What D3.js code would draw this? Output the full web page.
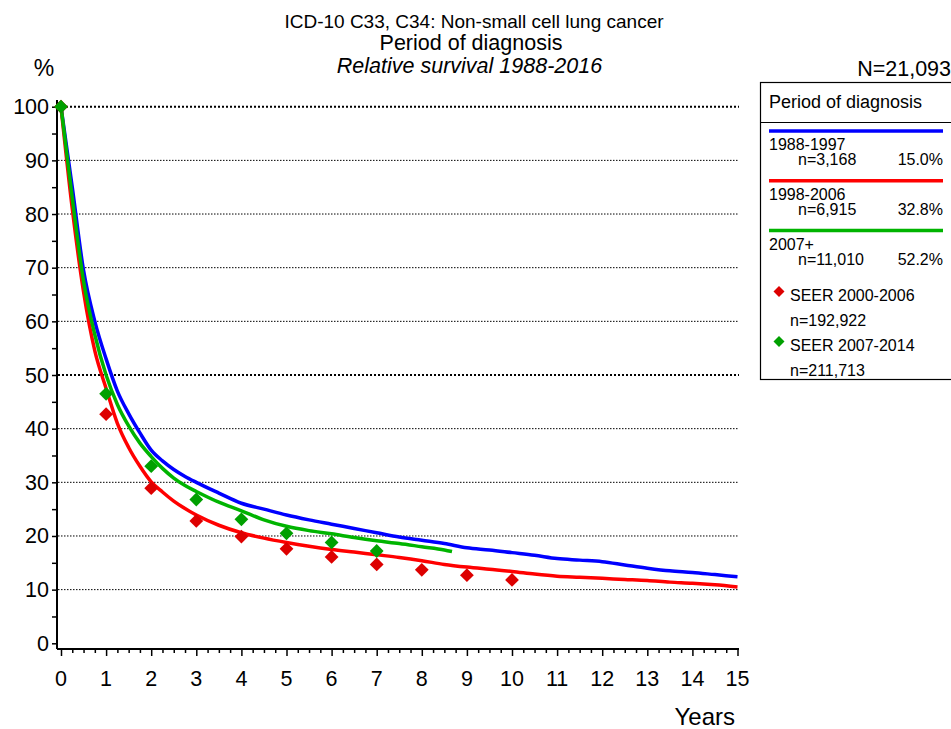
<!DOCTYPE html>
<html>
<head>
<meta charset="utf-8">
<script src="https://cdn.jsdelivr.net/npm/d3@7"></script>
<style>
  body { margin: 0; background: #fff; }
  svg { font-family: "Liberation Sans", Arial, sans-serif; }
  .narrow { font-family: "Liberation Sans Narrow", "Arial Narrow", "Liberation Sans", sans-serif; }
</style>
</head>
<body>
<svg id="chart" width="951" height="729"></svg>
<script>
// survival curves (years, relative survival %)
const years1988 = [0,0.25,0.5,0.75,1,1.25,1.5,1.75,2,2.25,2.5,2.75,3,3.5,4,4.5,5,5.5,6,6.5,7,7.5,8,8.5,9,9.5,10,10.5,11,11.5,12,12.5,13,13.5,14,14.5,15];
const surv1988 = [100,85,69.5,60,53,47,42.8,39.2,36,34,32.4,31.1,30,28,26.1,25,23.9,23,22.2,21.4,20.6,19.8,19.2,18.6,17.8,17.4,16.9,16.4,15.8,15.5,15.2,14.6,14,13.5,13.2,12.8,12.4];

const years1998 = [0,0.25,0.5,0.75,1,1.25,1.5,1.75,2,2.25,2.5,2.75,3,3.5,4,4.5,5,5.5,6,6.5,7,7.5,8,8.5,9,9.5,10,10.5,11,11.5,12,12.5,13,13.5,14,14.5,15];
const surv1998 = [100,81,65.5,54.5,47.5,41,36.5,33,30.1,28.2,26.5,25.1,23.9,22,20.6,19.6,18.8,18.1,17.5,17,16.5,16,15.4,14.7,14.2,13.8,13.4,12.9,12.5,12.3,12.1,11.9,11.7,11.4,11.2,10.9,10.5];

const years2007 = [0,0.25,0.5,0.75,1,1.25,1.5,1.75,2,2.25,2.5,2.75,3,3.5,4,4.5,5,5.5,6,6.5,7,7.5,8,8.5,8.67];
const surv2007 = [100,83,67.5,57.5,50,44.5,40.5,37.3,34.8,32.6,30.8,29.4,28.3,26.3,24.7,23,21.8,21,20.4,19.7,19.1,18.6,18,17.4,17.1];

// SEER reference points
const seerYearsA = [0,1,2,3,4,5,6,7,8,9,10];
const seerA = [100,42.7,28.9,22.8,19.9,17.6,16.1,14.7,13.7,12.7,11.8];
const seerYearsB = [0,1,2,3,4,5,6,7];
const seerB = [100,46.5,33,26.8,23.1,20.5,18.8,17.2];

const yTicks = [0,10,20,30,40,50,60,70,80,90,100];
const xTicks = d3.range(0, 16);

const legendRows = [
  {label: "1988-1997", n: "n=3,168", pct: "15.0%", color: "#0000ff"},
  {label: "1998-2006", n: "n=6,915", pct: "32.8%", color: "#ff0000"},
  {label: "2007+", n: "n=11,010", pct: "52.2%", color: "#00b400"}
];
const seerLegend = [
  {label: "SEER 2000-2006", n: "n=192,922", color: "#dd0000"},
  {label: "SEER 2007-2014", n: "n=211,713", color: "#00a000"}
];

const svg = d3.select("#chart");

const x = d3.scaleLinear().domain([0, 15]).range([61, 737.5]);
const y = d3.scaleLinear().domain([0, 100]).range([643.3, 106.7]);

// titles
svg.append("text").attr("class", "narrow").attr("x", 474).attr("y", 28)
  .attr("text-anchor", "middle").attr("font-size", 19)
  .text("ICD-10 C33, C34: Non-small cell lung cancer");
svg.append("text").attr("class", "narrow").attr("x", 471).attr("y", 50)
  .attr("text-anchor", "middle").attr("font-size", 21.5)
  .text("Period of diagnosis");
svg.append("text").attr("class", "narrow").attr("x", 469.5).attr("y", 73)
  .attr("text-anchor", "middle").attr("font-size", 21.5).attr("font-style", "italic")
  .text("Relative survival 1988-2016");
svg.append("text").attr("class", "narrow").attr("x", 44).attr("y", 76)
  .attr("text-anchor", "middle").attr("font-size", 23).text("%");
svg.append("text").attr("class", "narrow").attr("x", 951).attr("y", 76)
  .attr("text-anchor", "end").attr("font-size", 21.5).text("N=21,093");

// grid
svg.append("g").selectAll("line").data(yTicks.filter(d => d > 0)).join("line")
  .attr("x1", 58).attr("x2", 739)
  .attr("y1", d => y(d)).attr("y2", d => y(d))
  .attr("stroke", "#000")
  .attr("stroke-width", d => d % 50 === 0 ? 2 : 1)
  .attr("stroke-dasharray", d => d % 50 === 0 ? "2,2" : "1.5,1.5");

// y axis
const yAxis = d3.axisLeft(y).tickValues(d3.range(0, 101, 5)).tickSize(5).tickFormat("");
const gy = svg.append("g").attr("transform", "translate(57,0)").call(yAxis);
gy.select(".domain").attr("d", "M0,100V649").attr("stroke-width", 2);
gy.selectAll(".tick line").attr("stroke-width", 1.5);
svg.append("g").selectAll("text").data(yTicks).join("text")
  .attr("x", 49).attr("y", d => y(d) + 7.5)
  .attr("text-anchor", "end").attr("font-size", 21.5).text(d => d);

// x axis
const gx = svg.append("g").attr("transform", "translate(0,649)")
  .call(d3.axisBottom(x).tickValues(d3.range(0, 15.01, 0.25)).tickSize(4).tickFormat(""));
gx.select(".domain").attr("d", "M57,0H739").attr("stroke-width", 2);
gx.selectAll(".tick line").attr("stroke-width", 1.5)
  .attr("y2", d => Number.isInteger(d) ? 7 : 4);
svg.append("g").selectAll("text").data(xTicks).join("text")
  .attr("x", d => x(d)).attr("y", 686)
  .attr("text-anchor", "middle").attr("font-size", 21.5).text(d => d);
svg.append("text").attr("x", 735).attr("y", 725).attr("text-anchor", "end")
  .attr("font-size", 24).text("Years");

// curves
const line = d3.line().x(d => x(d[0])).y(d => y(d[1])).curve(d3.curveMonotoneX);
const curves = [
  {xs: years2007, ys: surv2007, color: "#00b400"},
  {xs: years1998, ys: surv1998, color: "#ff0000"},
  {xs: years1988, ys: surv1988, color: "#0000ff"}
];
// draw order: blue, red, green on top
[curves[2], curves[1], curves[0]].forEach(c => {
  svg.append("path").datum(d3.zip(c.xs, c.ys))
    .attr("d", line).attr("fill", "none")
    .attr("stroke", c.color).attr("stroke-width", 3.5)
    .attr("stroke-linejoin", "round");
});

// SEER diamonds
const diamond = d3.symbol().type(d3.symbolSquare).size(95);
[[seerYearsA, seerA, "#dd0000"], [seerYearsB, seerB, "#00a000"]].forEach(([xs, ys, col]) => {
  svg.append("g").selectAll("path").data(d3.zip(xs, ys)).join("path")
    .attr("d", diamond)
    .attr("transform", d => `translate(${x(d[0])},${y(d[1])}) rotate(45)`)
    .attr("fill", col);
});

// legend
const lg = svg.append("g");
lg.append("rect").attr("x", 760.5).attr("y", 82.5).attr("width", 220).attr("height", 297)
  .attr("fill", "#fff").attr("stroke", "#000").attr("stroke-width", 1.2);
lg.append("text").attr("x", 769).attr("y", 108).attr("font-size", 18).text("Period of diagnosis");
lg.append("line").attr("x1", 760).attr("x2", 951).attr("y1", 122.5).attr("y2", 122.5)
  .attr("stroke", "#000").attr("stroke-width", 1);
legendRows.forEach((r, i) => {
  const top = 131 + i * 49.8;
  lg.append("line").attr("x1", 769).attr("x2", 943).attr("y1", top).attr("y2", top)
    .attr("stroke", r.color).attr("stroke-width", 3.5);
  lg.append("text").attr("x", 769).attr("y", top + 19).attr("font-size", 16).text(r.label);
  lg.append("text").attr("x", 798).attr("y", top + 34).attr("font-size", 16).text(r.n);
  lg.append("text").attr("x", 943).attr("y", top + 34).attr("text-anchor", "end")
    .attr("font-size", 16).text(r.pct);
});
seerLegend.forEach((s, i) => {
  const cy = 291.5 + i * 50;
  lg.append("path").attr("d", d3.symbol().type(d3.symbolSquare).size(60))
    .attr("transform", `translate(779,${cy}) rotate(45)`).attr("fill", s.color);
  lg.append("text").attr("x", 790).attr("y", cy + 9).attr("font-size", 16).text(s.label);
  lg.append("text").attr("x", 790).attr("y", cy + 34).attr("font-size", 16).text(s.n);
});
</script>
</body>
</html>
